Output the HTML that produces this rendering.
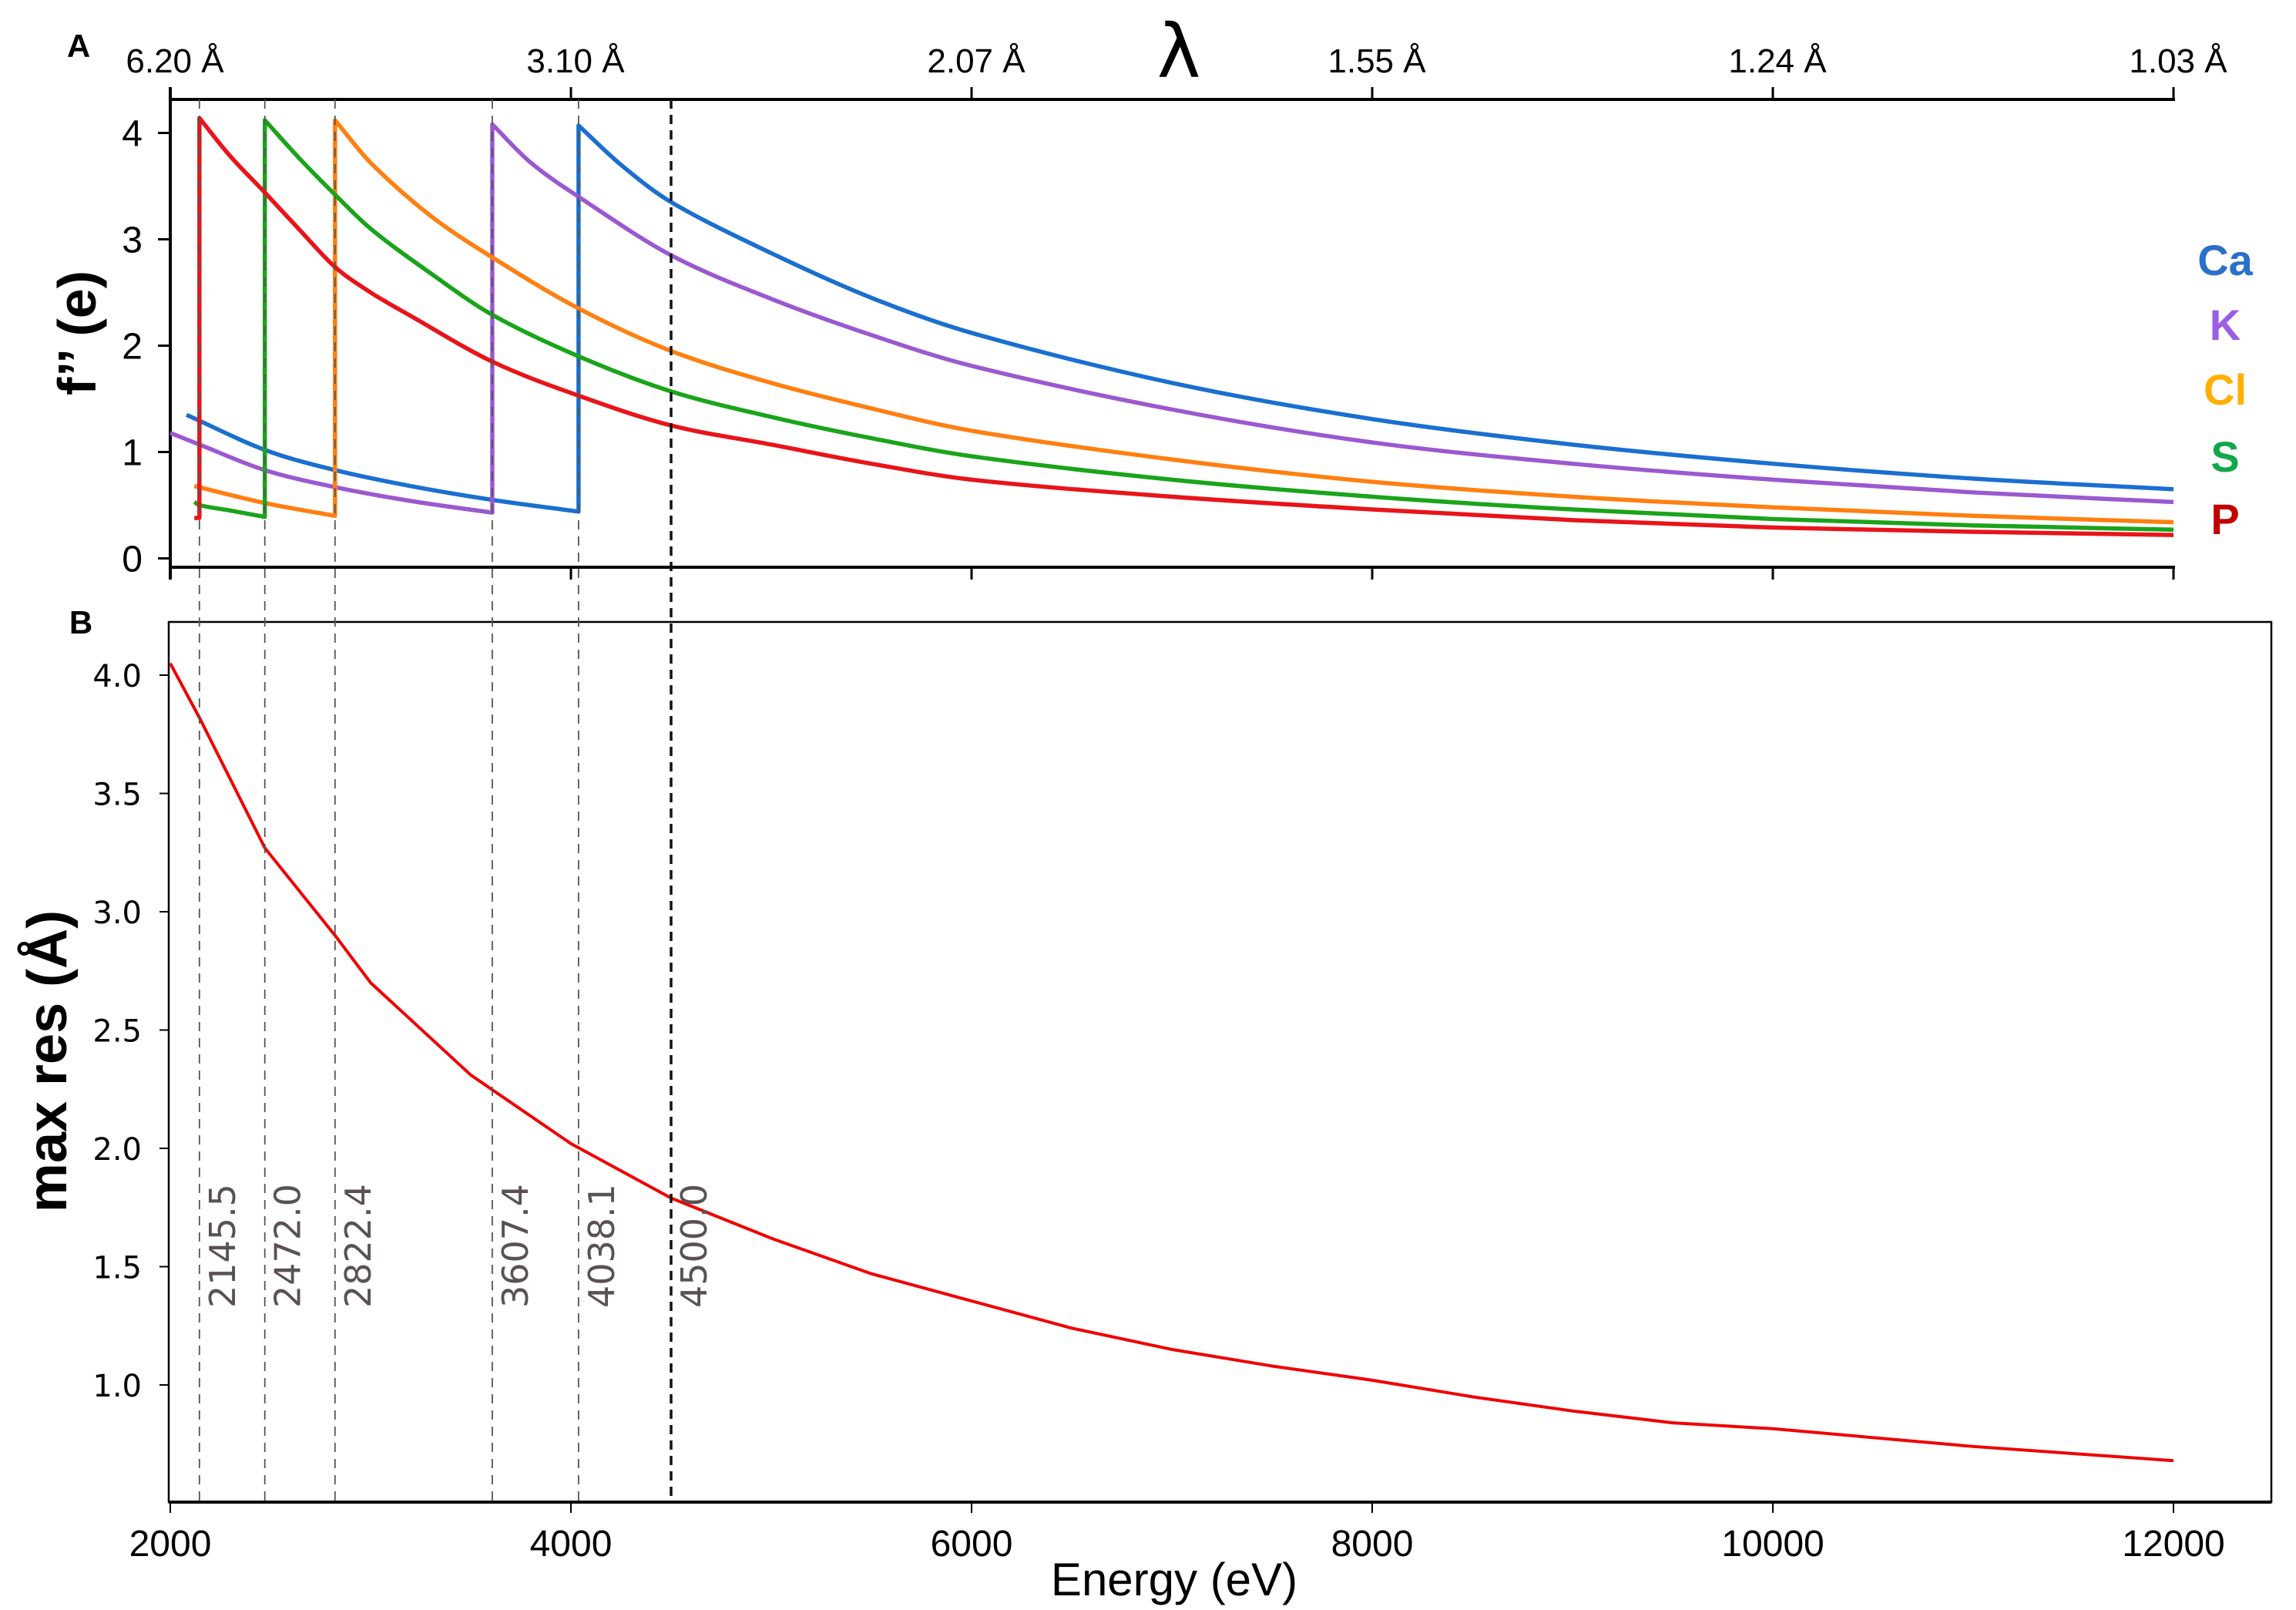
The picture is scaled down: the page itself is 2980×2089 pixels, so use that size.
<!DOCTYPE html>
<html><head><meta charset="utf-8"><style>
html,body{margin:0;padding:0;background:#fff;}
svg{display:block;}
</style></head><body>
<svg id="chart" xmlns="http://www.w3.org/2000/svg" width="2980" height="2089" viewBox="0 0 2980 2089">
<rect x="0" y="0" width="2980" height="2089" fill="#fff"/>
<g id="panelTop"></g>
<g id="panelBot"></g>
<g id="edgeGroup"></g>
</svg>
<script>
// ---- data ----
const xTicks = [2000, 4000, 6000, 8000, 10000, 12000];
const lambdaLabels = ["6.20 Å", "3.10 Å", "2.07 Å", "1.55 Å", "1.24 Å", "1.03 Å"];
const topYTicks = [0, 1, 2, 3, 4];
const botYTicks = [1.0, 1.5, 2.0, 2.5, 3.0, 3.5, 4.0];
const edgeEnergies = [2145.5, 2472.0, 2822.4, 3607.4, 4038.1, 4500.0];
const edgeLabels = ["2145.5", "2472.0", "2822.4", "3607.4", "4038.1", "4500.0"];

const pE = [2120,2145.5,2145.5,2300,2472,2650,2822.4,3000,3200,3607.4,4038.1,4500,5000,5500,6000,7000,8000,9000,10000,11000,12000];
const pF = [0.38,0.38,4.14,3.78,3.44,3.08,2.74,2.50,2.28,1.85,1.53,1.25,1.07,0.89,0.74,0.58,0.46,0.36,0.29,0.25,0.22];
const sE = [2120,2145.5,2300,2472,2472,2650,2822.4,3000,3300,3607.4,4038.1,4500,5000,5500,6000,7000,8000,9000,10000,11000,12000];
const sF = [0.53,0.50,0.45,0.39,4.12,3.75,3.42,3.10,2.68,2.29,1.90,1.57,1.33,1.13,0.96,0.74,0.58,0.46,0.37,0.31,0.27];
const clE = [2120,2472,2822.4,2822.4,3000,3300,3607.4,4038.1,4500,5000,5500,6000,7000,8000,9000,10000,11000,12000];
const clF = [0.68,0.52,0.40,4.12,3.72,3.22,2.83,2.35,1.95,1.65,1.41,1.20,0.93,0.72,0.58,0.48,0.40,0.34];
const kE = [2000,2145.5,2472,2822.4,3200,3607.4,3607.4,3800,4038.1,4500,5000,5500,6000,7000,8000,9000,10000,11000,12000];
const kF = [1.18,1.07,0.83,0.67,0.54,0.43,4.08,3.72,3.40,2.85,2.44,2.10,1.81,1.40,1.09,0.89,0.74,0.62,0.53];
const caE = [2081,2472,2822.4,3200,3607.4,4038.1,4038.1,4250,4500,5000,5500,6000,7000,8000,9000,10000,11000,12000];
const caF = [1.35,1.02,0.83,0.68,0.55,0.44,4.07,3.70,3.35,2.87,2.45,2.12,1.65,1.31,1.07,0.89,0.75,0.65];

const resE = [2000,2145.5,2472,2500,2822.4,3000,3500,4000,4500,5000,5500,6000,6500,7000,7500,8000,8500,9000,9500,10000,11000,12000];
const resV = [4.05,3.82,3.27,3.24,2.90,2.70,2.31,2.02,1.79,1.62,1.47,1.355,1.24,1.15,1.08,1.02,0.95,0.89,0.84,0.815,0.74,0.68];

// ---- scales ----
const X0 = 221, PX_PER_EV = 0.26;
function xs(e){ return X0 + (e - 2000) * PX_PER_EV; }
function yTop(v){ return 724.5 - v * 138; }
function yBot(v){ return 1797 - (v - 1.0) * 307; }

const NS = "http://www.w3.org/2000/svg";
function mk(tag, attrs, parent){ const el = document.createElementNS(NS, tag); for (const k in attrs) el.setAttribute(k, attrs[k]); parent.appendChild(el); return el; }
function txt(s, attrs, parent){ const t = mk("text", attrs, parent); t.textContent = s; return t; }

function segPath(pts, first){
  let d = first ? "M" + pts[0][0] + "," + pts[0][1] : "L" + pts[0][0] + "," + pts[0][1];
  const n = pts.length;
  const m = pts.map((p, i) => {
    const a = pts[Math.max(0, i-1)], b = pts[Math.min(n-1, i+1)];
    return (b[1]-a[1]) / (b[0]-a[0] || 1);
  });
  for (let i = 0; i < n - 1; i++){
    const p1 = pts[i], p2 = pts[i+1], h = p2[0]-p1[0];
    d += "C" + (p1[0]+h/3) + "," + (p1[1]+m[i]*h/3) + " " + (p2[0]-h/3) + "," + (p2[1]-m[i+1]*h/3) + " " + p2[0] + "," + p2[1];
  }
  return d;
}
function smoothPath(E, F, fy){
  const segs = []; let cur = [];
  for (let i = 0; i < E.length; i++){
    if (i > 0 && E[i] === E[i-1]) { segs.push(cur); cur = []; }
    cur.push([xs(E[i]), fy(F[i])]);
  }
  segs.push(cur);
  return segs.map((s, i) => segPath(s, i === 0)).join("");
}

const gTop = document.getElementById("panelTop");
const gBot = document.getElementById("panelBot");
const gEdges = document.getElementById("edgeGroup");

// ---- edge dashed lines ----
edgeEnergies.forEach((e, i) => {
  const last = i === edgeEnergies.length - 1;
  const l = mk("line", {x1: xs(e), x2: xs(e), y1: 129, y2: 1949, stroke: last ? "#111" : "#555", "stroke-width": last ? 3.5 : 1.8, "stroke-dasharray": last ? "12,8" : "12,9"}, gEdges);
  
  
  const bx = xs(e) + 46, by = 1697;
  const t = txt(edgeLabels[i], {x: bx, y: by, transform: "rotate(-90 " + bx + " " + by + ")", "font-family": "DejaVu Sans, sans-serif", "font-size": 46, fill: "#5a5252"}, gEdges);
  
  
});

// ---- panel A axes ----
mk("line", {x1: 221, x2: 2823, y1: 129, y2: 129, stroke: "#000", "stroke-width": 4}, gTop);
mk("line", {x1: 221, x2: 2823, y1: 736, y2: 736, stroke: "#000", "stroke-width": 4}, gTop);
mk("line", {x1: 221, x2: 221, y1: 113, y2: 752, stroke: "#000", "stroke-width": 4}, gTop);
xTicks.forEach((e, i) => {
  if (i > 0) {
    mk("line", {x1: xs(e), x2: xs(e), y1: 113, y2: 129, stroke: "#000", "stroke-width": 3}, gTop);
    mk("line", {x1: xs(e), x2: xs(e), y1: 736, y2: 752, stroke: "#000", "stroke-width": 3}, gTop);
  }
  const t = txt(lambdaLabels[i], {x: xs(e) + 6, y: 94, "text-anchor": "middle", "font-family": "Liberation Sans, sans-serif", "font-size": 44, fill: "#000"}, gTop);
  
  
});
topYTicks.forEach(v => {
  mk("line", {x1: 205, x2: 221, y1: yTop(v), y2: yTop(v), stroke: "#000", "stroke-width": 3}, gTop);
  const t = txt(String(v), {x: 185, y: yTop(v) + 17, "text-anchor": "end", "font-family": "Liberation Sans, sans-serif", "font-size": 48, fill: "#000"}, gTop);
  
  
});
const lam = txt("λ", {x: 1530, y: 100, "text-anchor": "middle", "font-family": "DejaVu Sans, sans-serif", "font-size": 96, fill: "#000"}, gTop);


const ya = txt("f’’ (e)", {x: 124, y: 432, transform: "rotate(-90 124 432)", "text-anchor": "middle", "font-family": "Liberation Sans, sans-serif", "font-weight": "bold", "font-size": 70, fill: "#000"}, gTop);


const la = txt("A", {x: 102, y: 74, "text-anchor": "middle", "font-family": "Liberation Sans, sans-serif", "font-weight": "bold", "font-size": 42}, gTop);



// ---- panel A series ----
const seriesE = [caE, kE, clE, sE, pE];
const seriesF = [caF, kF, clF, sF, pF];
const seriesNames = ["Ca", "K", "Cl", "S", "P"];
const seriesColors = ["#1a6fd0", "#9b59d0", "#ff7f10", "#1aa41a", "#e8141a"];
const legendColors = ["#2a6fc9", "#9b5de5", "#ffb000", "#12a84a", "#c00000"];
const legendY = [337, 421, 505, 592, 673];
seriesE.forEach((E, i) => {
  const p = mk("path", {d: smoothPath(E, seriesF[i], yTop), fill: "none", stroke: seriesColors[i], "stroke-width": 5.5, "stroke-linejoin": "round"}, gTop);
  
  
  const t = txt(seriesNames[i], {x: 2888, y: legendY[i] + 20, "text-anchor": "middle", "font-family": "Liberation Sans, sans-serif", "font-weight": "bold", "font-size": 56, fill: legendColors[i]}, gTop);
  
  
});

// ---- panel B ----
const box = mk("rect", {x: 219, y: 807, width: 2729, height: 1142, fill: "none", stroke: "#000", "stroke-width": 2.5}, gBot);


mk("line", {x1: 219, x2: 2948, y1: 1949, y2: 1949, stroke: "#000", "stroke-width": 4}, gBot);
xTicks.forEach(e => {
  mk("line", {x1: xs(e), x2: xs(e), y1: 1949, y2: 1963, stroke: "#000", "stroke-width": 2}, gBot);
  const t = txt(String(e), {x: xs(e), y: 2019, "text-anchor": "middle", "font-family": "Liberation Sans, sans-serif", "font-size": 48, fill: "#000"}, gBot);
  
  
});
botYTicks.forEach(v => {
  mk("line", {x1: 207, x2: 219, y1: yBot(v), y2: yBot(v), stroke: "#000", "stroke-width": 2}, gBot);
  const t = txt(v.toFixed(1), {x: 184, y: yBot(v) + 15, "text-anchor": "end", "font-family": "DejaVu Sans, sans-serif", "font-size": 40, fill: "#000"}, gBot);
  
  
});
const xt = txt("Energy (eV)", {x: 1524, y: 2070, "text-anchor": "middle", "font-family": "Liberation Sans, sans-serif", "font-size": 60, fill: "#000"}, gBot);


const yb = txt("max res (Å)", {x: 86, y: 1377, transform: "rotate(-90 86 1377)", "text-anchor": "middle", "font-family": "Liberation Sans, sans-serif", "font-weight": "bold", "font-size": 72, fill: "#000"}, gBot);


const lb = txt("B", {x: 105, y: 822, "text-anchor": "middle", "font-family": "Liberation Sans, sans-serif", "font-weight": "bold", "font-size": 42}, gBot);


const rl = mk("polyline", {points: resE.map((e, i) => xs(e) + "," + yBot(resV[i])).join(" "), fill: "none", stroke: "#f00000", "stroke-width": 4, "stroke-linejoin": "round"}, gBot);


</script>
</body></html>
